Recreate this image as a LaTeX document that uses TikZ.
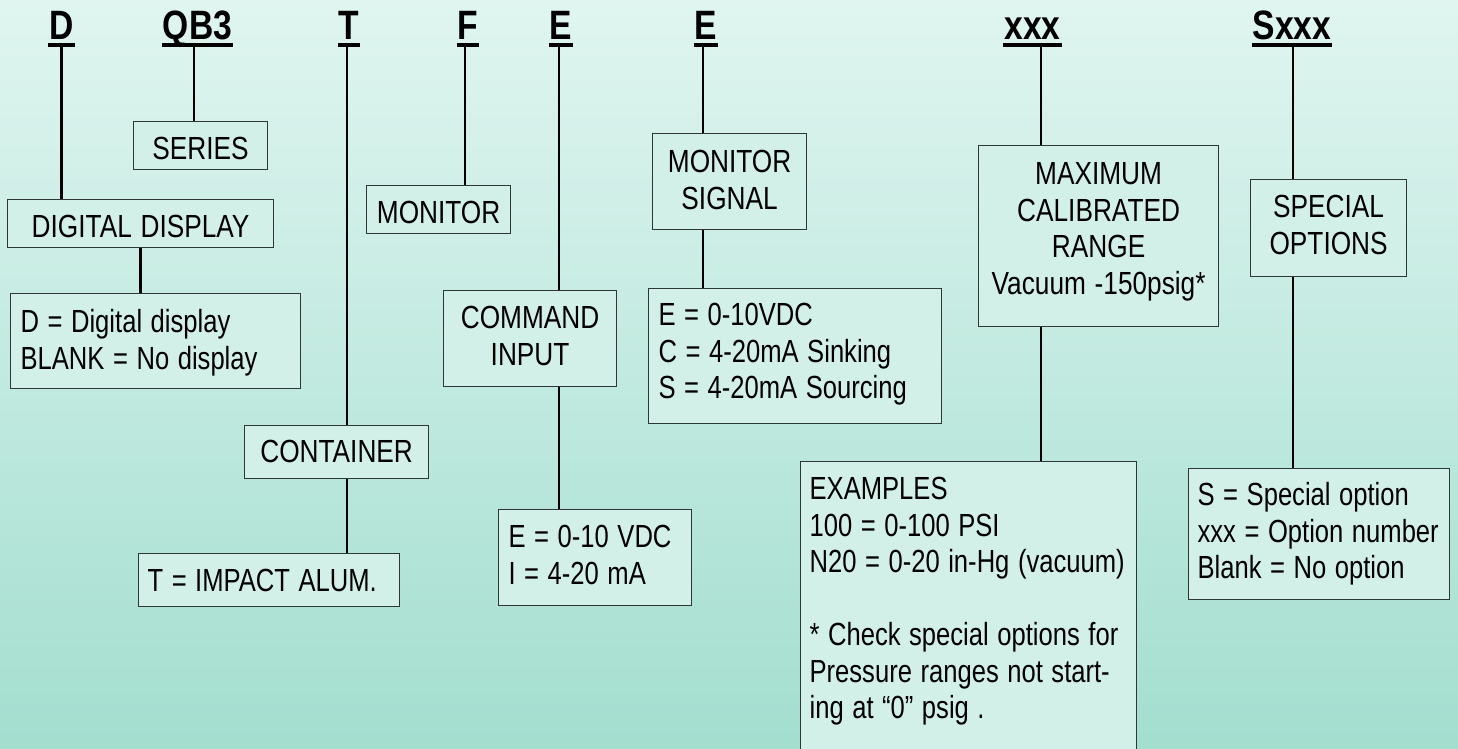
\documentclass[tikz,border=0pt]{standalone}
\usepackage{fontspec}
\setmainfont{Liberation Sans}
\newcommand{\boxfont}{\fontsize{32pt}{36.5pt}\selectfont}
\newcommand{\codefont}{\fontsize{41pt}{46pt}\selectfont\bfseries}
\newcommand{\narrow}[1]{\scalebox{0.82}[1]{#1}}
\newcommand{\leftlines}[1]{\scalebox{0.80}[1]{\begin{tabular}[t]{@{}l@{}}#1\end{tabular}}}
\newcommand{\midlines}[1]{\narrow{\begin{tabular}[t]{@{}c@{}}#1\end{tabular}}}
\definecolor{bgtop}{RGB}{224,245,240}
\definecolor{bgbot}{RGB}{163,222,207}
\definecolor{boxfill}{RGB}{211,240,232}
\definecolor{boxline}{RGB}{45,55,55}
\tikzset{
  code/.style={font=\codefont,anchor=base,inner xsep=1pt,inner ysep=5.5pt,text depth=0pt},
  uline/.style={line width=4pt},
  stem/.style={line width=2.6pt},
  box/.style={draw=boxline,fill=boxfill,line width=1.2pt,anchor=north west,inner ysep=0pt,font=\boxfont},
  title/.style={box,align=center,inner xsep=0pt},
  opts/.style={box,align=left}
}
\begin{document}
\begin{tikzpicture}[x=1pt,y=-1pt]
\useasboundingbox (0,0) rectangle (1458,748);
\clip (0,0) rectangle (1458,748);
\shade[top color=bgtop,bottom color=bgbot] (0,0) rectangle (1458,748);

% part number
\node[code] (lD) at (61.5,39.5) {\narrow{D}};
\node[code] (lQB) at (197.5,39.5) {\narrow{QB3}};
\node[code] (lT) at (349,39.5) {\narrow{T}};
\node[code] (lF) at (468,39.5) {\narrow{F}};
\node[code] (lE) at (561,39.5) {\narrow{E}};
\node[code] (lM) at (706,39.5) {\narrow{E}};
\node[code] (lX) at (1032.5,39.5) {\narrow{xxx}};
\node[code] (lS) at (1292,39.5) {\narrow{Sxxx}};
\foreach \n in {lD,lQB,lT,lF,lE,lM,lX,lS}
  \draw[uline] (\n.south west) -- (\n.south east);

% boxes
\node[title,text width=134pt,text height=38pt,text depth=10pt] (bSeries) at (133,121) {\midlines{SERIES}};
\node[title,text width=266pt,text height=38pt,text depth=10pt] (bDisp) at (7,199) {\midlines{DIGITAL DISPLAY}};
\node[opts,text width=270pt,inner xsep=10pt,text height=39pt,text depth=56pt] (bDispOpt) at (10,293)
  {\leftlines{D = Digital display\\BLANK = No display}};
\node[title,text width=144pt,text height=38pt,text depth=10pt] (bMon) at (366,185) {\midlines{MONITOR}};
\node[title,text width=184pt,text height=37pt,text depth=16pt] (bCont) at (244,425) {\midlines{CONTAINER}};
\node[opts,text width=243pt,inner xsep=9pt,text height=38pt,text depth=15pt] (bTopt) at (138,553)
  {\leftlines{T = IMPACT ALUM.}};
\node[title,text width=173pt,text height=38pt,text depth=58pt] (bCmd) at (443,290) {\midlines{COMMAND\\INPUT}};
\node[opts,text width=173pt,inner xsep=10pt,text height=38pt,text depth=58pt] (bCmdOpt) at (498,509)
  {\leftlines{E = 0-10 VDC\\I = 4-20 mA}};
\node[title,text width=154pt,text height=39pt,text depth=57pt] (bSig) at (652,133) {\midlines{MONITOR\\SIGNAL}};
\node[opts,text width=273pt,inner xsep=10pt,text height=37pt,text depth=98pt] (bSigOpt) at (648,288)
  {\leftlines{E = 0-10VDC\\C = 4-20mA Sinking\\S = 4-20mA Sourcing}};
\node[title,text width=240pt,text height=39pt,text depth=142pt] (bMax) at (978,145)
  {\midlines{MAXIMUM\\CALIBRATED\\RANGE\\Vacuum -150psig*}};
\node[opts,text width=318pt,inner xsep=9pt,text height=38pt,text depth=271pt] (bEx) at (800,461)
  {\leftlines{EXAMPLES\\100 = 0-100 PSI\\N20 = 0-20 in-Hg (vacuum)\\[36.5pt]* Check special options for\\Pressure ranges not start-\\ing at “0” psig .}};
\node[title,text width=156pt,text height=38pt,text depth=59pt] (bSpec) at (1250,179) {\midlines{SPECIAL\\OPTIONS}};
\node[opts,text width=243pt,inner xsep=9pt,text height=37pt,text depth=94pt] (bSopt) at (1188,468)
  {\leftlines{S = Special option\\xxx = Option number\\Blank = No option}};

% connectors
\foreach \a/\b/\s in {lD/bDisp/0,lQB/bSeries/-3.5,lT/bCont/-2,lF/bMon/-3,lE/bCmd/-2,lM/bSig/-3,lX/bMax/8.5,lS/bSpec/1}
  \draw[stem] ([xshift=\s]\a.south) coordinate (s\a) -- (s\a |- \b.north);
\foreach \a/\b/\c in {lT/bCont/bTopt,lE/bCmd/bCmdOpt,lM/bSig/bSigOpt,lX/bMax/bEx,lS/bSpec/bSopt}
  \draw[stem] (s\a |- \b.south) -- (s\a |- \c.north);
\draw[stem] (bDisp.south) -- (bDisp.south |- bDispOpt.north);
\end{tikzpicture}
\end{document}
